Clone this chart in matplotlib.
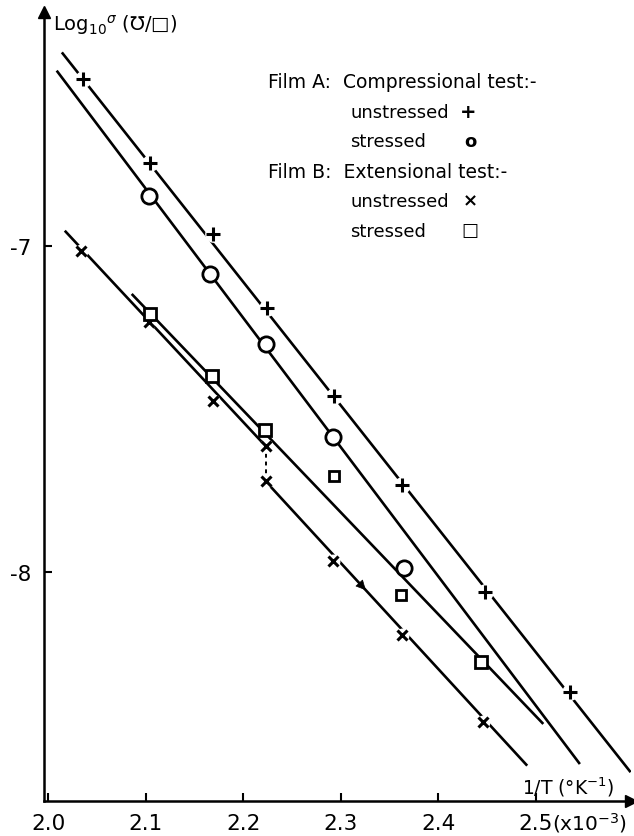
import numpy as np
import matplotlib
matplotlib.use('Agg')
import matplotlib.pyplot as plt

plt.rcParams['font.family'] = ['DejaVu Sans']
plt.rcParams['axes.unicode_minus'] = False

# Film A, compressional test (1/T in 10^-3 K^-1, log10 conductance)
a_unstr_x = [2.036, 2.104, 2.169, 2.224, 2.293, 2.363, 2.448, 2.535]
a_unstr_y = [-6.49, -6.745, -6.965, -7.19, -7.46, -7.735, -8.063, -8.37]
a_str_x = [2.103, 2.166, 2.223, 2.292, 2.365]
a_str_y = [-6.847, -7.087, -7.302, -7.588, -7.99]

# Film B, extensional test
b_unstr_x = [2.034, 2.103, 2.169, 2.223, 2.223, 2.292, 2.363, 2.446]
b_unstr_y = [-7.015, -7.235, -7.475, -7.615, -7.721, -7.968, -8.194, -8.46]
b_str_x = [2.104, 2.168, 2.222, 2.444]
b_str_y = [-7.21, -7.40, -7.564, -8.278]
b_str_extra_x = [2.293, 2.362]
b_str_extra_y = [-7.706, -8.071]

# hand drawn fit lines (end points)
fit_a_unstr_x, fit_a_unstr_y = [2.014, 2.597], [-6.407, -8.615]
fit_a_str_x, fit_a_str_y = [2.0087, 2.545], [-6.463, -8.59]
fit_b_unstr1_x, fit_b_unstr1_y = [2.017, 2.223], [-6.954, -7.615]
fit_b_unstr2_x, fit_b_unstr2_y = [2.2224, 2.491], [-7.721, -8.595]
fit_b_str_x, fit_b_str_y = [2.0856, 2.5075], [-7.148, -8.467]
jump_x, jump_y = [2.223, 2.223], [-7.615, -7.721]
arrow_at = 2.3215

xticks = [2.0, 2.1, 2.2, 2.3, 2.4, 2.5]
xticklabels = ['2.0', '2.1', '2.2', '2.3', '2.4', '2.5']
yticks = [-7, -8]
yticklabels = ['-7', '-8']

W, H = 634, 837
fig = plt.figure(figsize=(W / 100, H / 100), dpi=100)
ax = fig.add_axes([44 / W, 1 - 802 / H, (631 - 44) / W, (802 - 13) / H])

lw = 1.9
for fx, fy in [(fit_a_unstr_x, fit_a_unstr_y), (fit_a_str_x, fit_a_str_y),
               (fit_b_unstr1_x, fit_b_unstr1_y), (fit_b_unstr2_x, fit_b_unstr2_y),
               (fit_b_str_x, fit_b_str_y)]:
    ax.plot(fx, fy, color='black', lw=lw, zorder=2, solid_capstyle='butt')
ax.plot(jump_x, jump_y, color='black', lw=1.4, ls=(0, (2, 2)), zorder=2)

# small gaps in the lines around the cross markers
ax.plot(a_unstr_x, a_unstr_y, 'o', ms=11, color='white', ls='none', zorder=3)
ax.plot(b_unstr_x, b_unstr_y, 'o', ms=9, color='white', ls='none', zorder=3)

ax.plot(a_unstr_x, a_unstr_y, '+', ms=10, mew=2.2, color='black', ls='none', zorder=4)
ax.plot(a_str_x, a_str_y, 'o', ms=11, mew=2, mfc='white', mec='black', ls='none', zorder=4)
ax.plot(b_unstr_x, b_unstr_y, 'x', ms=7, mew=2.2, color='black', ls='none', zorder=4)
ax.plot(b_str_x, b_str_y, 's', ms=9, mew=2, mfc='white', mec='black', ls='none', zorder=4)
ax.plot(b_str_extra_x, b_str_extra_y, 's', ms=6.5, mew=2, mfc='white', mec='black', ls='none', zorder=4)

# direction arrow on the lower film B line
ay0 = np.interp(arrow_at - 0.01, fit_b_unstr2_x, fit_b_unstr2_y)
ay1 = np.interp(arrow_at + 0.006, fit_b_unstr2_x, fit_b_unstr2_y)
ax.annotate('', xy=(arrow_at + 0.006, ay1), xytext=(arrow_at - 0.01, ay0),
            arrowprops=dict(arrowstyle='-|>', color='black', lw=0.5, mutation_scale=16), zorder=5)

ax.set_xlim(1.9957, 2.5974)
ax.set_ylim(-8.7034, -6.2831)
ax.spines['top'].set_visible(False)
ax.spines['right'].set_visible(False)
ax.spines['left'].set_linewidth(1.8)
ax.spines['bottom'].set_linewidth(1.8)
ax.plot(1, 0, '>', ms=8, color='black', transform=ax.transAxes, clip_on=False)
ax.plot(0, 1, '^', ms=8, color='black', transform=ax.transAxes, clip_on=False)

ax.set_xticks(xticks)
ax.set_xticklabels(xticklabels)
ax.set_yticks(yticks)
ax.set_yticklabels(yticklabels)
ax.tick_params(axis='both', direction='in', length=6, width=1.5, labelsize=15.5)
ax.tick_params(axis='x', pad=9)
ax.tick_params(axis='y', pad=9)

def ftext(x, y, s, **kw):
    fig.text(x / W, 1 - y / H, s, va='center', **kw)

ftext(53, 25, r'Log$_{10}{}^{\sigma}$ (℧/□)', fontsize=14)
ftext(568, 787, r'1/T (°K$^{-1}$)', fontsize=13.5, ha='center')
ftext(552, 823, r'(x10$^{-3}$)', fontsize=14.5)

ftext(268, 83, 'Film A:  Compressional test:-', fontsize=13.5)
ftext(350, 113, 'unstressed', fontsize=13)
ftext(468, 112, '+', fontsize=14, fontweight='bold', ha='center')
ftext(350, 142, 'stressed', fontsize=13)
ftext(470, 142, 'o', fontsize=13, fontweight='bold', ha='center')
ftext(268, 172, 'Film B:  Extensional test:-', fontsize=13.5)
ftext(350, 202, 'unstressed', fontsize=13)
ftext(470, 201, '×', fontsize=13, fontweight='bold', ha='center')
ftext(350, 232, 'stressed', fontsize=13)
ftext(470, 231, '□', fontsize=13, fontweight='bold', ha='center')

fig.savefig('out.png', dpi=100)
